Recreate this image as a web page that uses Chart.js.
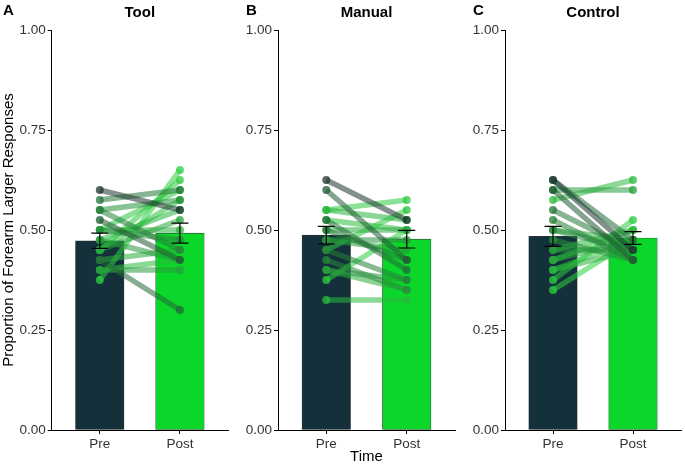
<!DOCTYPE html>
<html>
<head>
<meta charset="utf-8">
<script src="https://cdn.jsdelivr.net/npm/chart.js@4.4.1/dist/chart.umd.min.js"></script>
<style>
  html, body { margin: 0; padding: 0; background: #fff; }
  #wrap { position: relative; width: 685px; height: 466px; overflow: hidden; font-family: "Liberation Sans", Arial, sans-serif; }
  canvas { position: absolute; top: 0; }
  .lbl { position: absolute; font-weight: bold; font-size: 15px; color: #000; line-height: 1; white-space: nowrap; }
</style>
</head>
<body>
<div id="wrap">
  <canvas id="cA" width="232" height="466" style="left:0px"></canvas>
  <canvas id="cB" width="227" height="466" style="left:232px"></canvas>
  <canvas id="cC" width="226" height="466" style="left:459px"></canvas>
</div>
<script>
const timeLabels = ["Pre", "Post"];
const panelLetters = ["A", "B", "C"];
const panelTitles = ["Tool", "Manual", "Control"];
const yTicks = [0, 0.25, 0.5, 0.75, 1];

// group means and standard errors (Pre, Post)
const toolMeans = [0.473, 0.492];
const toolSE = [0.019, 0.025];
const manualMeans = [0.487, 0.477];
const manualSE = [0.022, 0.022];
const controlMeans = [0.484, 0.480];
const controlSE = [0.025, 0.016];

// individual participants, ordered dark -> bright
const toolPre  = [0.600, 0.525, 0.425, 0.575, 0.550, 0.500, 0.550, 0.475, 0.400, 0.450, 0.425, 0.500, 0.475, 0.400, 0.450, 0.500, 0.450, 0.375];
const toolPost = [0.550, 0.425, 0.300, 0.600, 0.450, 0.475, 0.575, 0.425, 0.400, 0.525, 0.450, 0.500, 0.550, 0.425, 0.575, 0.600, 0.625, 0.650];

const manualPre  = [0.625, 0.600, 0.525, 0.500, 0.450, 0.425, 0.475, 0.400, 0.475, 0.500, 0.400, 0.550, 0.325, 0.525, 0.450, 0.550, 0.375];
const manualPost = [0.525, 0.425, 0.400, 0.425, 0.375, 0.350, 0.475, 0.375, 0.450, 0.500, 0.350, 0.525, 0.325, 0.500, 0.550, 0.575, 0.500];

const controlPre  = [0.625, 0.600, 0.625, 0.550, 0.525, 0.500, 0.475, 0.450, 0.600, 0.425, 0.500, 0.400, 0.450, 0.575, 0.425, 0.400, 0.375, 0.350];
const controlPost = [0.450, 0.425, 0.475, 0.450, 0.425, 0.450, 0.425, 0.450, 0.600, 0.475, 0.475, 0.450, 0.500, 0.625, 0.500, 0.475, 0.525, 0.475];

const PRE_FILL = "#14303a";
const POST_FILL = "#0bd62a";
const DARK = [30, 52, 50];
const BRIGHT = [44, 208, 64];

Chart.defaults.font.family = '"Liberation Sans", Arial, sans-serif';
Chart.defaults.color = "#333";

function participantColor(i, n, alpha) {
    // ease towards green so the middle of the range reads as green, not grey
    const t = Math.sqrt(n > 1 ? i / (n - 1) : 0);
    const c = DARK.map((d, k) => Math.round(d + (BRIGHT[k] - d) * t));
    return `rgba(${c[0]},${c[1]},${c[2]},${alpha})`;
}

const errorBars = {
    id: "errorBars",
    afterDatasetsDraw(chart, args, opts) {
        const meta = chart.getDatasetMeta(0);
        const y = chart.scales.y;
        const ctx = chart.ctx;
        ctx.save();
        ctx.strokeStyle = "#000";
        ctx.lineWidth = 1.2;
        meta.data.forEach((bar, i) => {
            const top = y.getPixelForValue(opts.means[i] + opts.se[i]);
            const bot = y.getPixelForValue(opts.means[i] - opts.se[i]);
            const x = bar.x;
            ctx.beginPath();
            ctx.moveTo(x, top); ctx.lineTo(x, bot);
            ctx.moveTo(x - 8.5, top); ctx.lineTo(x + 8.5, top);
            ctx.moveTo(x - 8.5, bot); ctx.lineTo(x + 8.5, bot);
            ctx.stroke();
        });
        ctx.restore();
    },
};

function makePanel(canvasId, idx, means, se, pre, post, yWidth, padRight) {
    const n = pre.length;
    const lines = pre.map((p, i) => ({
        type: "line",
        data: [{ x: 1, y: p }, { x: 2, y: post[i] }],
        borderColor: participantColor(i, n, 0.55),
        backgroundColor: participantColor(i, n, 0.75),
        borderWidth: 5.5,
        pointRadius: 4,
        pointBorderWidth: 0,
        order: 0,
    }));
    const bars = {
        type: "bar",
        data: means.map((m, i) => ({ x: i + 1, y: m })),
        backgroundColor: [PRE_FILL, POST_FILL],
        borderColor: "#333",
        borderWidth: 0.6,
        borderSkipped: false,
        barThickness: 48.5,
        order: 10,
    };
    return new Chart(document.getElementById(canvasId), {
        data: { datasets: [bars, ...lines] },
        plugins: [errorBars],
        options: {
            responsive: false,
            animation: false,
            layout: { padding: { top: 30, right: padRight, left: 0, bottom: 0 } },
            plugins: {
                legend: { display: false },
                tooltip: { enabled: false },
                errorBars: { means, se },
            },
            scales: {
                x: {
                    type: "linear",
                    min: 0.4,
                    max: 2.6,
                    offset: false,
                    afterBuildTicks: (s) => { s.ticks = timeLabels.map((_, i) => ({ value: i + 1 })); },
                    afterFit: (s) => { s.height = 36; },
                    ticks: {
                        callback: (v, i) => timeLabels[i],
                        font: { size: 13.5 },
                        padding: 2,
                        maxRotation: 0,
                        autoSkip: false,
                    },
                    grid: { offset: false, drawOnChartArea: false, drawTicks: true, tickLength: 4, tickColor: "#000" },
                    border: { color: "#000", width: 1 },
                    title: {
                        display: idx === 1,
                        text: "Time",
                        color: "#000",
                        font: { size: 15 },
                        padding: 0,
                    },
                },
                y: {
                    min: 0,
                    max: 1,
                    afterBuildTicks: (s) => { s.ticks = yTicks.map((v) => ({ value: v })); },
                    afterFit: (s) => { s.width = yWidth; },
                    ticks: {
                        callback: (v) => v.toFixed(2),
                        font: { size: 13.5 },
                        padding: 2,
                    },
                    grid: { drawOnChartArea: false, drawTicks: true, tickLength: 4, tickColor: "#000" },
                    border: { color: "#000", width: 1 },
                    title: {
                        display: idx === 0,
                        text: "Proportion of Forearm Larger Responses",
                        color: "#000",
                        font: { size: 15 },
                        padding: 0,
                    },
                },
            },
        },
    });
}

const charts = [
    makePanel("cA", 0, toolMeans, toolSE, toolPre, toolPost, 51.7, 1),
    makePanel("cB", 1, manualMeans, manualSE, manualPre, manualPost, 46, 1),
    makePanel("cC", 2, controlMeans, controlSE, controlPre, controlPost, 46, 0),
];

// panel letters and titles
const wrap = document.getElementById("wrap");
charts.forEach((ch, i) => {
    const left = parseFloat(ch.canvas.style.left);
    const area = ch.chartArea;
    const letter = document.createElement("div");
    letter.className = "lbl";
    letter.textContent = panelLetters[i];
    letter.style.left = (left + (i === 0 ? 3 : 14)) + "px";
    letter.style.top = "2px";
    wrap.appendChild(letter);

    const title = document.createElement("div");
    title.className = "lbl";
    title.textContent = panelTitles[i];
    title.style.left = (left + (area.left + area.right) / 2) + "px";
    title.style.top = "4px";
    title.style.transform = "translateX(-50%)";
    wrap.appendChild(title);
});
</script>
</body>
</html>
